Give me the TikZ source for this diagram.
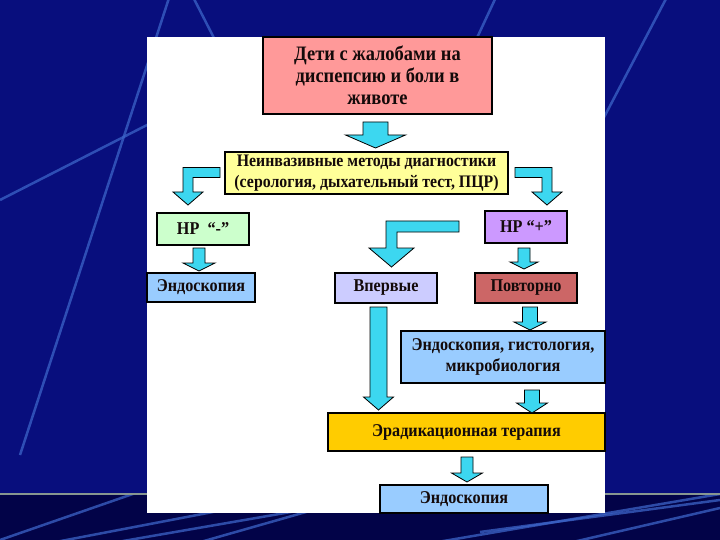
\documentclass[tikz,border=0pt]{standalone}
\usepackage{fontspec}
\setmainfont[FakeStretch=0.9]{Liberation Serif}
\usetikzlibrary{calc}
\definecolor{bgnavy}{RGB}{8,14,125}
\definecolor{bgdark}{RGB}{2,3,72}
\definecolor{bgline}{RGB}{60,100,200}
\definecolor{hline}{RGB}{135,150,145}
\definecolor{cpink}{RGB}{255,153,153}
\definecolor{cyellow}{RGB}{255,255,153}
\definecolor{cgreen}{RGB}{204,255,204}
\definecolor{cpurple}{RGB}{204,153,255}
\definecolor{cblue}{RGB}{153,204,255}
\definecolor{clav}{RGB}{204,204,255}
\definecolor{cred}{RGB}{204,102,102}
\definecolor{corange}{RGB}{255,204,0}
\definecolor{ccyan}{RGB}{60,215,240}
\definecolor{ctext}{RGB}{20,10,10}
\tikzset{
  box/.style={draw=black, line width=1.5pt, inner sep=0pt, align=center, text=ctext,
    font=\fontsize{18}{21.5}\selectfont\bfseries},
  blk/.style={fill=ccyan, draw=black, line width=0.8pt, line join=miter},
  bgl/.style={draw=bgline, line width=2.5pt, opacity=0.75}
}
% straight block arrow: start, tip, shaft half-width, head half-width, head length
\newcommand{\blkarrow}[5]{%
  \path[blk] let \p1=(#1), \p2=(#2) in
   (\x1-#3pt,\y1) -- (\x1+#3pt,\y1) -- (\x1+#3pt,\y2+#5pt) -- (\x1+#4pt,\y2+#5pt)
   -- (\x1,\y2) -- (\x1-#4pt,\y2+#5pt) -- (\x1-#3pt,\y2+#5pt) -- cycle;}
% bent arrow going left then down
\newcommand{\bentleft}[5]{%
  \path[blk] let \p1=(#1), \p2=(#2) in
   (\x1,\y1+#3pt) -- (\x2-#3pt,\y1+#3pt) -- (\x2-#3pt,\y2+#5pt) -- (\x2-#4pt,\y2+#5pt)
   -- (\x2,\y2) -- (\x2+#4pt,\y2+#5pt) -- (\x2+#3pt,\y2+#5pt) -- (\x2+#3pt,\y1-#3pt)
   -- (\x1,\y1-#3pt) -- cycle;}
% bent arrow going right then down
\newcommand{\bentright}[5]{%
  \path[blk] let \p1=(#1), \p2=(#2) in
   (\x1,\y1+#3pt) -- (\x2+#3pt,\y1+#3pt) -- (\x2+#3pt,\y2+#5pt) -- (\x2+#4pt,\y2+#5pt)
   -- (\x2,\y2) -- (\x2-#4pt,\y2+#5pt) -- (\x2-#3pt,\y2+#5pt) -- (\x2-#3pt,\y1-#3pt)
   -- (\x1,\y1-#3pt) -- cycle;}
\begin{document}
\begin{tikzpicture}[x=1pt,y=-1pt]
\useasboundingbox (0,0) rectangle (720,540);
% background
\fill[bgnavy] (0,0) rectangle (720,540);
\fill[bgdark] (0,494) rectangle (720,540);
\begin{scope}
  \clip (0,0) rectangle (720,493);
  \draw[bgl] (170,-5) -- (20,455);
  \draw[bgl] (0,200) -- (200,98);
  \draw[bgl] (192,-5) -- (215,40);
  \draw[bgl] (497,-5) -- (476,40);
  \draw[bgl] (668,-5) -- (600,125);
\end{scope}
\begin{scope}
  \clip (0,495) rectangle (720,540);
  \draw[bgl] (0,540) -- (150,488);
  \draw[bgl] (40,545) -- (260,503);
  \draw[bgl] (100,545) -- (360,500);
  \draw[bgl] (190,545) -- (320,508);
  \draw[bgl] (420,545) -- (720,494);
  \draw[bgl] (480,532) -- (720,500);
  \draw[bgl] (560,545) -- (720,508);
\end{scope}
\draw[hline, line width=2pt] (0,493.5) -- (720,493.5);
% white panel
\fill[white] (147,37) rectangle (605,513);

% boxes
\node[box, fill=cpink, minimum width=229pt, minimum height=77pt,
  font=\fontsize{20.5}{22}\selectfont\bfseries] (top) at (377.5,75.5)
  {Дети с жалобами на\\диспепсию и боли в\\животе};
\node[box, fill=cyellow, minimum width=283pt, minimum height=42pt,
  font=\fontsize{17.6}{21}\selectfont\bfseries] (ni) at (366.5,173)
  {Неинвазивные методы диагностики\\(серология, дыхательный тест, ПЦР)};
\node[box, fill=cgreen, minimum width=92pt, minimum height=32pt] (hpm) at (203,229)
  {НР\ \ “-”};
\node[box, fill=cpurple, minimum width=82pt, minimum height=32pt] (hpp) at (526,227)
  {НР “+”};
\node[box, fill=cblue, minimum width=108pt, minimum height=29pt] (endo1) at (201,287.5)
  {Эндоскопия};
\node[box, fill=clav, minimum width=102pt, minimum height=30pt] (first) at (386,288)
  {Впервые};
\node[box, fill=cred, minimum width=102pt, minimum height=30pt] (again) at (526,288)
  {Повторно};
\node[box, fill=cblue, minimum width=204pt, minimum height=52pt] (endo2) at (503,357)
  {Эндоскопия, гистология,\\микробиология};
\node[box, fill=corange, minimum width=277pt, minimum height=38pt] (erad) at (466.5,432)
  {Эрадикационная терапия};
\node[box, fill=cblue, minimum width=168pt, minimum height=28pt] (endo3) at (464,499)
  {Эндоскопия};

% arrow end points
\coordinate (a1s) at (375.5,122); \coordinate (a1t) at (375.5,148);
\coordinate (a2s) at (220,172.5); \coordinate (a2t) at (188,205);
\coordinate (a3s) at (515,172.5); \coordinate (a3t) at (547,205);
\coordinate (a4s) at (459,226.5); \coordinate (a4t) at (391.5,267);
\coordinate (a5s) at (199,248);   \coordinate (a5t) at (199,271);
\coordinate (a6s) at (524,248);   \coordinate (a6t) at (524,269);
\coordinate (a7s) at (530,307);   \coordinate (a7t) at (530,330);
\coordinate (a8s) at (378.5,307); \coordinate (a8t) at (378.5,410);
\coordinate (a9s) at (532,390);   \coordinate (a9t) at (532,413);
\coordinate (a10s) at (467,457);  \coordinate (a10t) at (467,482);

\blkarrow{a1s}{a1t}{12.5}{30}{13}
\bentleft{a2s}{a2t}{5}{15}{13}
\bentright{a3s}{a3t}{5}{15}{13}
\bentleft{a4s}{a4t}{5.5}{22.5}{19}
\blkarrow{a5s}{a5t}{6}{16}{8}
\blkarrow{a6s}{a6t}{6}{14}{7}
\blkarrow{a7s}{a7t}{7.5}{16}{8}
\blkarrow{a8s}{a8t}{8.5}{15}{13}
\blkarrow{a9s}{a9t}{7.5}{15.5}{10}
\blkarrow{a10s}{a10t}{6}{15.5}{9}
\end{tikzpicture}
\end{document}
